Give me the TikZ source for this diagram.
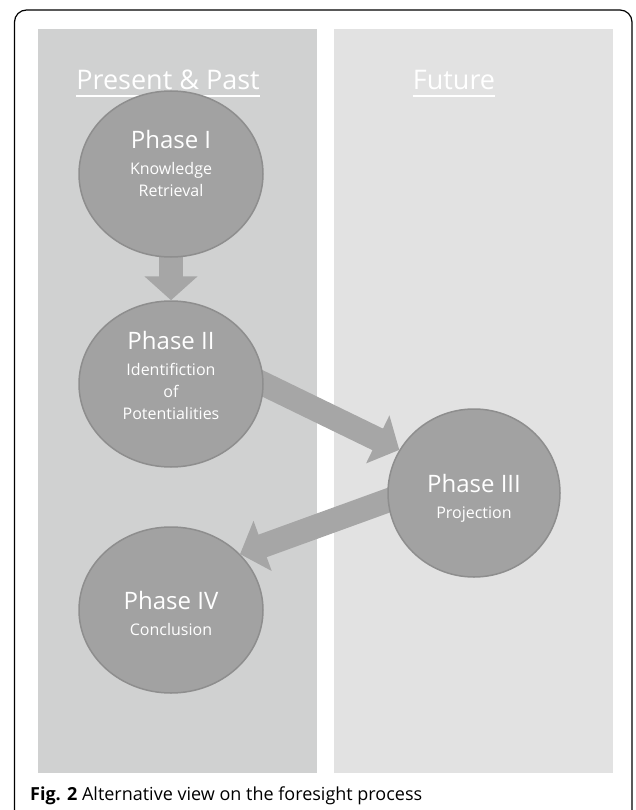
\documentclass[tikz,border=0pt]{standalone}
\usepackage{fontspec}
\setmainfont{Open Sans}
\usetikzlibrary{shapes.geometric,arrows.meta}
\definecolor{pastbg}{HTML}{D0D1D1}
\definecolor{futurebg}{HTML}{E2E2E2}
\definecolor{phasefill}{HTML}{A2A2A2}
\definecolor{phaseedge}{HTML}{8E8E8E}
\definecolor{flowcol}{HTML}{A6A6A6}
\pgfdeclarelayer{panels}
\pgfdeclarelayer{links}
\pgfsetlayers{panels,links,main}

\begin{document}
\begin{tikzpicture}[x=1pt,y=-1pt,
    phase/.style={ellipse, fill=phasefill, draw=phaseedge, line width=1.5pt, minimum width=184pt, minimum height=166pt, inner sep=0pt},
    phasetext/.style={align=center, text=white, font=\fontsize{16}{22}\selectfont, inner sep=0pt},
    header/.style={text=white, font=\fontsize{27}{32}\selectfont, inner sep=0pt, anchor=base},
    flow/.style={draw=flowcol, line width=24pt, -{Triangle[width=52pt,length=24pt]}, shorten <=-8pt}]
    \useasboundingbox (0,0) rectangle (635,810);
    \begin{pgfonlayer}{panels}
        \fill[pastbg] (38,29) rectangle (317,773);
        \fill[futurebg] (334,29) rectangle (613,773);
    \end{pgfonlayer}
    \draw[line width=1.2pt, rounded corners=12pt] (14.5,10) rectangle (632,840);
    \node[header] (past) at (168,90) {Present \& Past};
    \node[header] (future) at (454,90) {Future};
    \draw[white, line width=1.5pt] ([yshift=-6pt]past.base west) -- ([yshift=-6pt]past.base east);
    \draw[white, line width=1.5pt] ([yshift=-6pt]future.base west) -- ([yshift=-6pt]future.base east);
    \node[phase] (p1) at (171,174) {};
    \node[phase] (p2) at (171,384) {};
    \node[phase, minimum width=172pt, minimum height=168pt] (p3) at (474,493) {};
    \node[phase] (p4) at (171,610) {};
    \node[phasetext] (t1) at ([yshift=11pt]p1.center) {{\fontsize{24}{28}\selectfont Phase I}\\[4pt]Knowledge\\Retrieval};
    \node[phasetext] (t2) at ([yshift=9pt]p2.center) {{\fontsize{24}{28}\selectfont Phase II}\\[4pt]Identifiction\\of\\Potentialities};
    \node[phasetext] (t3) at ([yshift=-5pt]p3.center) {{\fontsize{24}{28}\selectfont Phase III}\\[4pt]Projection};
    \node[phasetext] (t4) at ([yshift=-3pt]p4.center) {{\fontsize{24}{28}\selectfont Phase IV}\\[4pt]Conclusion};
    \begin{pgfonlayer}{links}
        \draw[flow] (p1.south) -- (p2.north);
        \draw[flow] (p2.east) -- (p3.150);
        \draw[flow] (p3.185) -- (p4.39);
    \end{pgfonlayer}
    \node[anchor=base west, inner sep=0pt, font=\fontsize{18}{22}\selectfont] (caption) at (30,800) {\textbf{Fig. 2} Alternative view on the foresight process};
\end{tikzpicture}
\end{document}
